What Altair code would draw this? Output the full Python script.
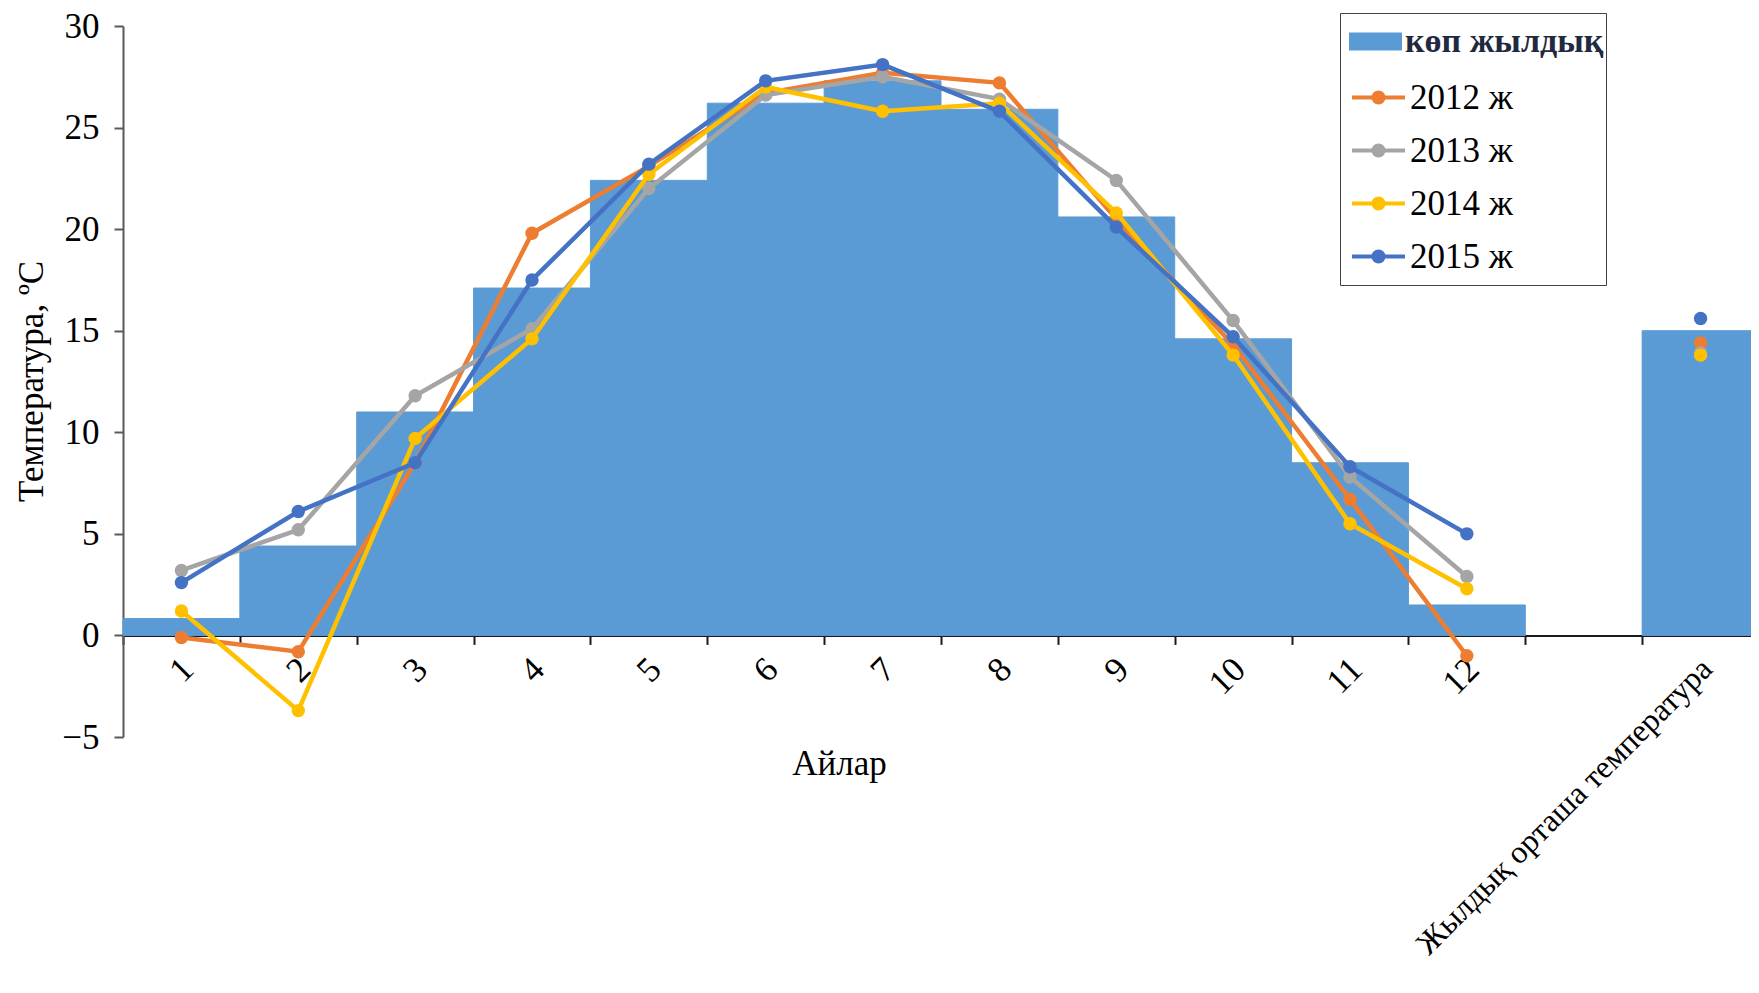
import altair as alt
import pandas as pd

months = ["1", "2", "3", "4", "5", "6", "7", "8", "9", "10", "11", "12"]
annual_label = "Жылдық орташа температура"
categories = months + [" ", annual_label]

normal_name = "көп жылдық"
normal_months = [0.83, 4.4, 11.0, 17.1, 22.4, 26.2, 27.3, 25.9, 20.6, 14.6, 8.5, 1.5]
normal_annual = 15.0

years = ["2012 ж", "2013 ж", "2014 ж", "2015 ж"]
t2012 = [-0.1, -0.8, 8.5, 19.8, 23.1, 26.7, 27.7, 27.2, 20.5, 14.3, 6.7, -1.0]
t2013 = [3.2, 5.2, 11.8, 15.1, 22.0, 26.6, 27.5, 26.4, 22.4, 15.5, 7.8, 2.9]
t2014 = [1.2, -3.7, 9.7, 14.6, 22.7, 27.0, 25.8, 26.2, 20.8, 13.8, 5.5, 2.3]
t2015 = [2.6, 6.1, 8.5, 17.5, 23.2, 27.3, 28.1, 25.8, 20.1, 14.7, 8.3, 5.0]
annual_years = [14.4, 13.9, 13.8, 15.6]

bar_color = "#5B9BD5"
year_colors = ["#ED7D31", "#A5A5A5", "#FFC000", "#4472C4"]

FONT = "Liberation Serif"
FS = 35

RECT_PATH = "M-1,-0.34H1V0.34H-1Z"
LINE_DOT_PATH = (
    "M-1,0H1"
    "M0.19,0A0.19,0.19,0,1,1,-0.19,0A0.19,0.19,0,1,1,0.19,0"
    "M0.09,0A0.09,0.09,0,1,1,-0.09,0A0.09,0.09,0,1,1,0.09,0"
    "M0.02,0A0.02,0.02,0,1,1,-0.02,0A0.02,0.02,0,1,1,0.02,0"
)

bars_df = pd.DataFrame({
    "category": months + [annual_label],
    "value": normal_months + [normal_annual],
    "series": normal_name,
})

year_values = [t2012, t2013, t2014, t2015]

# legend for the bars: it also draws the frame around the whole legend block
fill_enc = alt.Fill(
    "series:N",
    scale=alt.Scale(domain=[normal_name], range=[bar_color]),
    legend=alt.Legend(
        title="\u2800",
        titleOrient="bottom",
        titleFontSize=10,
        titlePadding=214,
        orient="none",
        legendX=1217,
        legendY=-13,
        labelFont=FONT,
        labelFontSize=34,
        labelFontWeight="bold",
        labelColor="#1F2A40",
        labelOffset=3,
        labelLimit=0,
        symbolType=RECT_PATH,
        symbolSize=2809,
        symbolStrokeWidth=0,
        symbolOffset=7,
        padding=2,
        strokeColor="#404040",
        zindex=1,
    ),
)

color_enc = alt.Color(
    "series:N",
    scale=alt.Scale(domain=years, range=year_colors),
    legend=alt.Legend(
        title=None,
        orient="none",
        legendX=1227,
        legendY=43,
        labelFont=FONT,
        labelFontSize=FS,
        labelColor="#000000",
        labelOffset=3,
        symbolType=LINE_DOT_PATH,
        symbolSize=2809,
        symbolStrokeWidth=4,
        rowPadding=6,
        padding=0,
        zindex=2,
    ),
)

x_enc = alt.X(
    "category:N",
    sort=categories,
    scale=alt.Scale(domain=categories, paddingInner=0, paddingOuter=0),
    axis=alt.Axis(
        title="Айлар",
        titleFont=FONT,
        titleFontSize=FS,
        titleFontWeight="normal",
        titleColor="#000000",
        titleX=716,
        titleY=128,
        titleBaseline="middle",
        titleAlign="center",
        offset=-101.6,
        domainColor="#1a1a1a",
        domainWidth=2,
        tickColor="#1a1a1a",
        tickWidth=2,
        tickSize=9,
        tickBand="extent",
        labelAngle=-45,
        labelAlign="right",
        labelBaseline="middle",
        labelFont=FONT,
        labelFontSize={
            "condition": {"test": f"datum.value === '{annual_label}'", "value": 32},
            "value": FS,
        },
        labelColor="#000000",
        labelPadding=19,
        labelOffset=6,
        labelOverlap=False,
        labelLimit=0,
        grid=False,
    ),
)

y_enc = alt.Y(
    "value:Q",
    scale=alt.Scale(domain=[-5, 30], nice=False, zero=False),
    axis=alt.Axis(
        title="Температура, ºС",
        titleFont=FONT,
        titleFontSize=FS,
        titleFontWeight="normal",
        titleColor="#000000",
        titleAngle=-90,
        titleX=-92,
        titleY=355,
        titleAlign="center",
        titleBaseline="middle",
        values=[-5, 0, 5, 10, 15, 20, 25, 30],
        domainColor="#595959",
        domainWidth=2,
        tickColor="#595959",
        tickWidth=2,
        tickSize=9,
        labelFont=FONT,
        labelFontSize=FS,
        labelColor="#000000",
        labelPadding=15,
        grid=False,
    ),
)

bars = alt.Chart(bars_df).mark_bar(opacity=1, stroke=bar_color, strokeWidth=1).encode(
    x=x_enc, y=y_enc, fill=fill_enc
)

layers = [bars]
for name, vals, ann in zip(years, year_values, annual_years):
    line_df = pd.DataFrame({"category": months, "value": vals, "series": name})
    pt_df = pd.DataFrame({
        "category": months + [annual_label],
        "value": vals + [ann],
        "series": name,
    })
    layers.append(
        alt.Chart(pt_df).mark_circle(size=180, opacity=1).encode(
            x=x_enc, y=y_enc, color=color_enc
        )
    )
    layers.append(
        alt.Chart(line_df).mark_line(strokeWidth=4.5).encode(
            x=x_enc, y=y_enc, color=color_enc
        )
    )

chart = alt.layer(*layers).properties(
    width=1636,
    height=711,
    padding={"left": 115, "top": 18, "right": -8, "bottom": 248},
    autosize=alt.AutoSizeParams(type="none"),
    background="#ffffff",
).configure(font=FONT).configure_view(stroke=None)

chart.save("out.html", embed_options={"renderer": "svg", "actions": False})
